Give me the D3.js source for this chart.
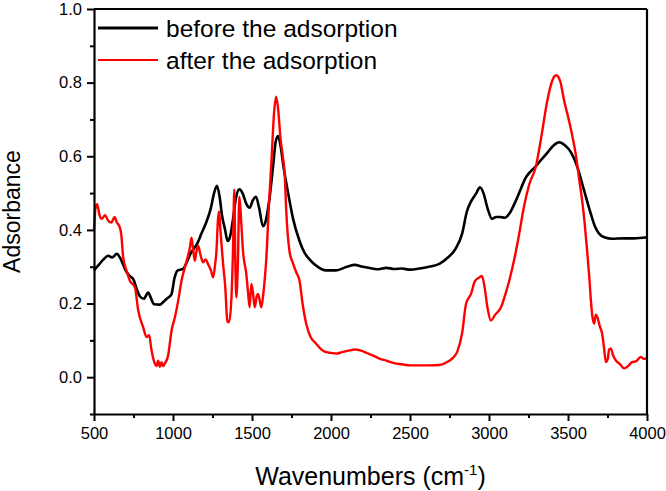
<!DOCTYPE html>
<html>
<head>
<meta charset="utf-8">
<script src="https://cdn.jsdelivr.net/npm/d3@7/dist/d3.min.js"></script>
<style>
  body { margin: 0; background: #fff; }
  svg text { font-family: "Liberation Sans", Arial, sans-serif; fill: #000; }
</style>
</head>
<body>
<div id="chart"></div>
<script>
// wavenumbers (cm-1) and absorbance
var beforeX = [500, 530, 560, 590, 615, 645, 670, 700, 725, 750, 770, 790, 815, 843, 860, 880, 917, 940, 960, 990,
  1010, 1030, 1064, 1090, 1110, 1150, 1180, 1210, 1240, 1260, 1278, 1295, 1310, 1330, 1345, 1360, 1380, 1400, 1420, 1440,
  1465, 1485, 1505, 1525, 1545, 1570, 1590, 1612, 1635, 1650, 1664, 1680, 1700, 1720, 1738, 1760, 1801, 1830, 1864, 1906,
  1969, 2033, 2100, 2150, 2200, 2260, 2300, 2350, 2400, 2450, 2500, 2560, 2620, 2686, 2740, 2790, 2830, 2860, 2890, 2920,
  2943, 2965, 2990, 3019, 3045, 3070, 3100, 3130, 3160, 3200, 3230, 3255, 3290, 3330, 3370, 3410, 3444, 3480, 3520, 3560,
  3600, 3640, 3670, 3697, 3730, 3780, 3850, 3920, 4000];
var beforeY = [0.29, 0.305, 0.32, 0.33, 0.325, 0.335, 0.32, 0.29, 0.275, 0.265, 0.24, 0.22, 0.213, 0.23, 0.215, 0.198, 0.197, 0.205, 0.213, 0.225,
  0.27, 0.29, 0.294, 0.315, 0.335, 0.36, 0.39, 0.42, 0.46, 0.5, 0.52, 0.49, 0.44, 0.4, 0.37, 0.38, 0.43, 0.49, 0.51, 0.5,
  0.47, 0.46, 0.48, 0.49, 0.46, 0.41, 0.43, 0.49, 0.58, 0.64, 0.655, 0.63, 0.57, 0.52, 0.478, 0.43, 0.37, 0.34, 0.32, 0.303,
  0.29, 0.29, 0.3, 0.305, 0.3, 0.295, 0.293, 0.297, 0.294, 0.295, 0.292, 0.295, 0.3, 0.308, 0.325, 0.35, 0.39, 0.45, 0.48, 0.5,
  0.516, 0.5, 0.46, 0.43, 0.435, 0.435, 0.433, 0.445, 0.47, 0.51, 0.54, 0.555, 0.57, 0.59, 0.61, 0.63, 0.638, 0.63, 0.61, 0.57,
  0.51, 0.45, 0.41, 0.39, 0.38, 0.376, 0.377, 0.377, 0.38];

var afterX = [500, 510, 520, 535, 550, 570, 590, 610, 630, 645, 660, 672, 685, 706, 727, 759, 780, 811, 833, 849,
  864, 885, 896, 906, 917, 927, 938, 948, 969, 991, 1012, 1033, 1054, 1075, 1095, 1107, 1117, 1127, 1138, 1148,
  1159, 1175, 1191, 1206, 1222, 1240, 1254, 1265, 1275, 1285, 1292, 1300, 1317, 1330, 1345, 1355, 1368, 1380, 1388, 1395,
  1401, 1410, 1420, 1432, 1443, 1464, 1475, 1485, 1496, 1506, 1517, 1530, 1538, 1548, 1559, 1570, 1580, 1591, 1605, 1623,
  1640, 1653, 1665, 1680, 1695, 1707, 1717, 1738, 1759, 1780, 1801, 1820, 1843, 1870, 1906, 1940, 1969, 2000, 2033, 2070,
  2110, 2150, 2190, 2230, 2270, 2310, 2350, 2400, 2450, 2500, 2560, 2620, 2686, 2730, 2768, 2800, 2830, 2855, 2887, 2910,
  2939, 2955, 2970, 2990, 3012, 3040, 3076, 3100, 3128, 3160, 3191, 3220, 3255, 3297, 3330, 3368, 3400, 3425, 3450, 3476,
  3510, 3549, 3570, 3590, 3605, 3621, 3635, 3645, 3656, 3666, 3676, 3686, 3700, 3716, 3728, 3740, 3752, 3760, 3771, 3785,
  3802, 3830, 3855, 3880, 3906, 3930, 3960, 3980, 4000];
var afterY = [0.4, 0.46, 0.47, 0.44, 0.43, 0.44, 0.425, 0.42, 0.435, 0.42, 0.41, 0.39, 0.325, 0.289, 0.262, 0.244, 0.181, 0.136, 0.109, 0.114,
  0.073, 0.037, 0.03, 0.045, 0.028, 0.041, 0.03, 0.037, 0.059, 0.127, 0.163, 0.208, 0.262, 0.298, 0.33, 0.352, 0.379, 0.35, 0.316, 0.34,
  0.357, 0.33, 0.312, 0.32, 0.307, 0.29, 0.271, 0.3, 0.343, 0.43, 0.45, 0.4, 0.307, 0.25, 0.15, 0.15, 0.2, 0.35, 0.51, 0.3,
  0.217, 0.3, 0.49, 0.42, 0.343, 0.28, 0.23, 0.19, 0.253, 0.23, 0.19, 0.22, 0.226, 0.21, 0.19, 0.22, 0.262, 0.325, 0.45, 0.586,
  0.72, 0.762, 0.73, 0.65, 0.6, 0.55, 0.45, 0.34, 0.31, 0.285, 0.262, 0.2, 0.145, 0.11, 0.091, 0.075, 0.068, 0.066, 0.064, 0.068,
  0.072, 0.075, 0.072, 0.065, 0.058, 0.05, 0.045, 0.038, 0.035, 0.032, 0.032, 0.032, 0.033, 0.04, 0.051, 0.07, 0.12, 0.2, 0.227, 0.26,
  0.271, 0.275, 0.25, 0.19, 0.154, 0.17, 0.19, 0.22, 0.262, 0.32, 0.389, 0.46, 0.524, 0.573, 0.65, 0.749, 0.805, 0.82, 0.805, 0.75,
  0.69, 0.605, 0.54, 0.478, 0.42, 0.343, 0.27, 0.208, 0.16, 0.146, 0.17, 0.163, 0.14, 0.118, 0.08, 0.041, 0.05, 0.075, 0.078, 0.06,
  0.046, 0.035, 0.024, 0.03, 0.041, 0.043, 0.055, 0.05, 0.05];

var xMajor = [500, 1000, 1500, 2000, 2500, 3000, 3500, 4000];
var xMinor = [750, 1250, 1750, 2250, 2750, 3250, 3750];
var yMajor = [0.0, 0.2, 0.4, 0.6, 0.8, 1.0];
var yMinor = [-0.1, 0.1, 0.3, 0.5, 0.7, 0.9];
var seriesNames = ["before the adsorption", "after the adsorption"];
var seriesColors = ["#000000", "#ff0000"];

var W = 666, H = 491;
var margin = { top: 9, right: 19, bottom: 77, left: 94 };
var width = W - margin.left - margin.right,
    height = H - margin.top - margin.bottom;

var svg = d3.select("#chart").append("svg")
    .attr("width", W)
    .attr("height", H);

var g = svg.append("g")
    .attr("transform", "translate(" + margin.left + "," + margin.top + ")");

var x = d3.scaleLinear().domain([500, 4000]).range([0, width]);
var y = d3.scaleLinear().domain([-0.1, 1.0]).range([height, 0]);

var line = d3.line()
    .x(function (d) { return x(d[0]); })
    .y(function (d) { return y(d[1]); })
    .curve(d3.curveMonotoneX);

var before = beforeX.map(function (v, i) { return [v, beforeY[i]]; });
var after = afterX.map(function (v, i) { return [v, afterY[i]]; });

g.append("path").datum(before)
    .attr("fill", "none").attr("stroke", seriesColors[0]).attr("stroke-width", 2.6)
    .attr("d", line);
g.append("path").datum(after)
    .attr("fill", "none").attr("stroke", seriesColors[1]).attr("stroke-width", 2.4)
    .attr("d", line);

// frame: top and right lines, no ticks
g.append("line").attr("x1", 0).attr("x2", width).attr("y1", 0).attr("y2", 0)
    .attr("stroke", "#000").attr("stroke-width", 2.2);
g.append("line").attr("x1", width).attr("x2", width).attr("y1", 0).attr("y2", height)
    .attr("stroke", "#000").attr("stroke-width", 2.2);

// minor ticks
g.append("g").attr("transform", "translate(0," + height + ")")
    .call(d3.axisBottom(x).tickValues(xMinor).tickSize(4).tickSizeOuter(0).tickFormat(""))
    .call(function (a) { a.select(".domain").remove(); a.selectAll("line").attr("stroke-width", 2); });
g.append("g")
    .call(d3.axisLeft(y).tickValues(yMinor).tickSize(4).tickSizeOuter(0).tickFormat(""))
    .call(function (a) { a.select(".domain").remove(); a.selectAll("line").attr("stroke-width", 2); });

// major axes
var xaxis = g.append("g").attr("transform", "translate(0," + height + ")")
    .call(d3.axisBottom(x).tickValues(xMajor).tickSize(7).tickSizeOuter(0).tickPadding(6).tickFormat(d3.format("d")));
var yaxis = g.append("g")
    .call(d3.axisLeft(y).tickValues(yMajor).tickSize(7).tickSizeOuter(0).tickPadding(5).tickFormat(d3.format(".1f")));

[xaxis, yaxis].forEach(function (a) {
    a.select(".domain").attr("stroke-width", 2.2);
    a.selectAll(".tick line").attr("stroke-width", 2);
    a.selectAll("text").style("font-size", "16.5px").style("font-family", "'Liberation Sans', Arial, sans-serif").attr("fill", "#000");
});

// axis titles
var xt = svg.append("text")
    .attr("x", margin.left + width / 2)
    .attr("y", 485)
    .attr("text-anchor", "middle")
    .style("font-size", "25px");
xt.append("tspan").text("Wavenumbers (cm");
xt.append("tspan").attr("dy", -10).style("font-size", "15px").text("-1");
xt.append("tspan").attr("dy", 10).text(")");

svg.append("text")
    .attr("transform", "translate(20," + (margin.top + height / 2) + ") rotate(-90)")
    .attr("text-anchor", "middle")
    .style("font-size", "23px")
    .text("Adsorbance");

// legend
var legend = svg.append("g");
seriesNames.forEach(function (name, i) {
    var ly = 28 + i * 32;
    legend.append("line")
        .attr("x1", 98).attr("x2", 158).attr("y1", ly).attr("y2", ly)
        .attr("stroke", seriesColors[i]).attr("stroke-width", i === 0 ? 2.8 : 2.2);
    legend.append("text")
        .attr("x", 166).attr("y", ly + 8.5)
        .style("font-size", "24.5px")
        .text(name);
});
</script>
</body>
</html>
